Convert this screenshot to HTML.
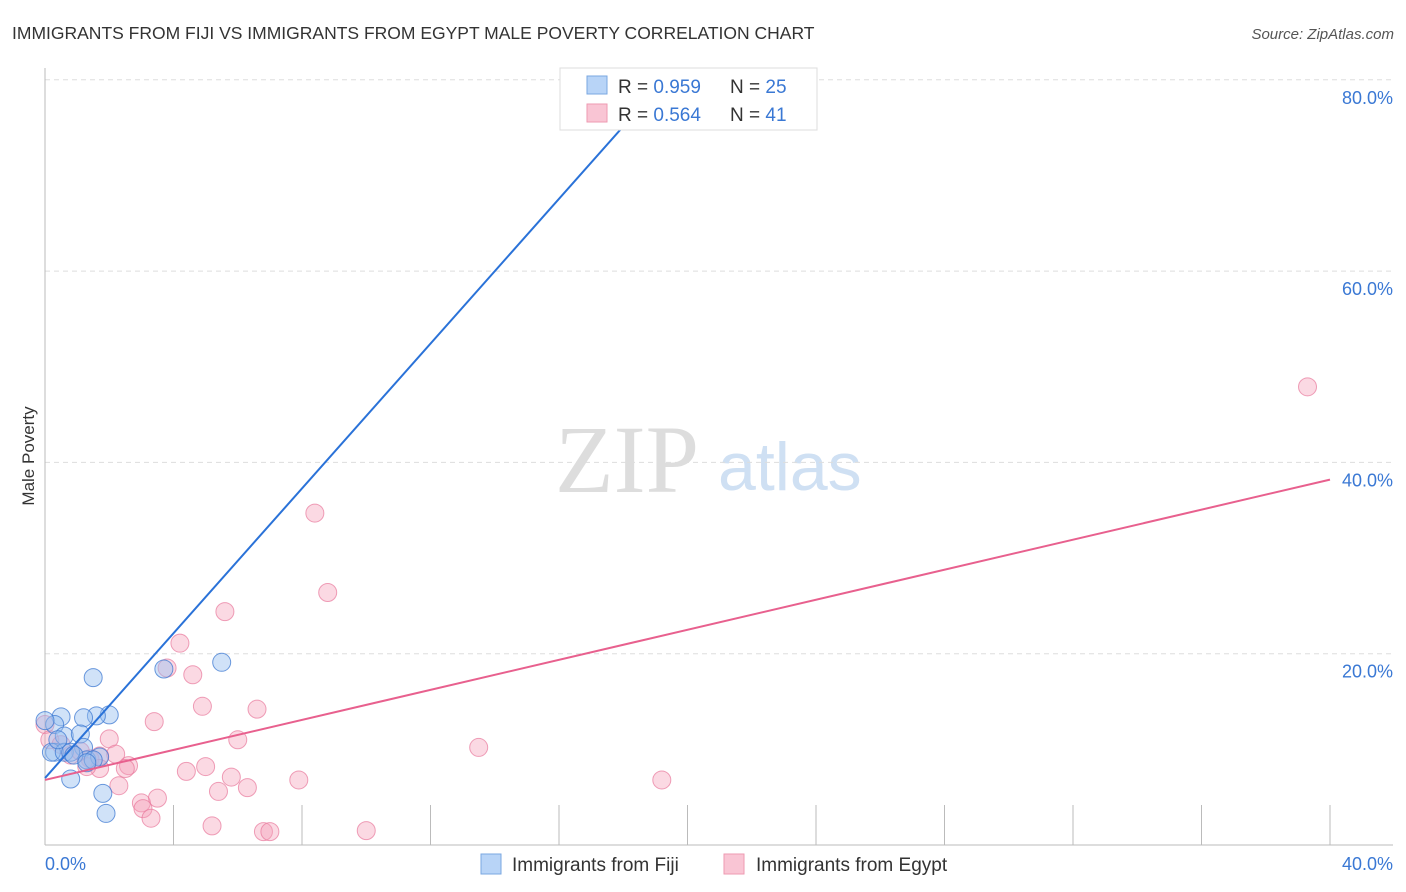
<!DOCTYPE html>
<html><head><meta charset="utf-8"><style>
body{margin:0;background:#fff;font-family:"Liberation Sans",sans-serif;}
</style></head><body>
<svg width="1406" height="892" style="display:block">
<text x="12" y="39" font-size="17.5" fill="#333">IMMIGRANTS FROM FIJI VS IMMIGRANTS FROM EGYPT MALE POVERTY CORRELATION CHART</text>
<text x="1394" y="39" font-size="15" fill="#555" font-style="italic" text-anchor="end">Source: ZipAtlas.com</text>
<text x="555" y="492" font-size="96" fill="#ddd" font-family="Liberation Serif,serif">ZIP</text>
<text x="718" y="490" font-size="68" fill="#cfe0f3">atlas</text>
<g id="grid"></g>
<line x1="45" y1="68" x2="45" y2="845" stroke="#bbb"/>
<line x1="45" y1="845" x2="1393" y2="845" stroke="#bbb"/>
<text x="34" y="456" font-size="17" fill="#333" text-anchor="middle" transform="rotate(-90 34 456)">Male Poverty</text>
<text x="45" y="870" font-size="18" fill="#3a78d4">0.0%</text>
<text x="1393" y="870" font-size="18" fill="#3a78d4" text-anchor="end">40.0%</text>
<g id="pts"></g>
<g id="lines"></g>
<g>
<rect x="560" y="68" width="257" height="62" fill="#fff" stroke="#ddd"/>
<rect x="587" y="76" width="20" height="18" fill="#b8d4f7" stroke="#7aa7e0"/>
<rect x="587" y="104" width="20" height="18" fill="#f9c5d4" stroke="#ee9ab2"/>
<text x="618" y="93" font-size="19" fill="#333">R = <tspan fill="#3a78d4">0.959</tspan><tspan x="730">N = </tspan><tspan fill="#3a78d4">25</tspan></text>
<text x="618" y="121" font-size="19" fill="#333">R = <tspan fill="#3a78d4">0.564</tspan><tspan x="730">N = </tspan><tspan fill="#3a78d4">41</tspan></text>
</g>
<g>
<rect x="481" y="854" width="20" height="20" fill="#b8d4f7" stroke="#7aa7e0"/>
<text x="512" y="871" font-size="19" fill="#333">Immigrants from Fiji</text>
<rect x="724" y="854" width="20" height="20" fill="#f9c5d4" stroke="#ee9ab2"/>
<text x="756" y="871" font-size="19" fill="#333">Immigrants from Egypt</text>
</g>
</svg>
<script>
const yTicks=[20,40,60,80];
const xTicks=[4,8,12,16,20,24,28,32,36,40];
const fijiX=[5.5,1.5,3.7,2.0,1.6,1.2,0.5,0.3,0.6,1.1,1.2,0.3,0.2,0.6,1.3,1.7,0.8,0.8,1.8,1.9,0.0,0.4,0.9,1.5,1.3];
const fijiY=[19.1,17.5,18.4,13.6,13.5,13.3,13.4,12.6,11.4,11.6,10.2,9.7,9.7,9.7,8.9,9.2,9.7,6.9,5.4,3.3,13.0,11.0,9.4,8.9,8.6];
const egyptX=[39.3,8.4,8.8,5.6,4.2,3.8,4.6,4.9,3.4,6.6,6.0,2.0,2.2,1.4,1.7,1.7,1.3,2.6,2.5,5.0,4.4,13.5,19.2,7.9,5.8,5.4,6.3,2.3,3.5,3.0,3.05,3.3,5.2,6.8,7.0,10.0,0.0,0.15,0.8,0.5,1.1];
const egyptY=[47.9,34.7,26.4,24.4,21.1,18.5,17.8,14.5,12.9,14.2,11.0,11.1,9.5,9.0,9.3,8.0,8.2,8.3,8.0,8.2,7.7,10.2,6.8,6.8,7.1,5.6,6.0,6.2,4.9,4.4,3.8,2.8,2.0,1.4,1.4,1.5,12.6,11.0,9.4,10.5,9.8];
const fijiLine=[7.0,79.1],fijiLineX=[0,19.05];
const egyptLine=[6.8,38.2],egyptLineX=[0,40];
const NS='http://www.w3.org/2000/svg';
const sx=v=>45+v/40*1285, sy=v=>845-v/20*191.3;
function mk(t,a,parent){const e=document.createElementNS(NS,t);for(const k in a)e.setAttribute(k,a[k]);document.getElementById(parent).appendChild(e);return e;}
yTicks.forEach(v=>{
const l=mk('line',{x1:45,x2:1393,y1:sy(v),y2:sy(v),stroke:'#ddd','stroke-dasharray':'5,4'},'grid');


const t=mk('text',{x:1393,y:sy(v)+24,'font-size':18,fill:'#3a78d4','text-anchor':'end'},'grid');
t.textContent=v.toFixed(1)+'%';


});
xTicks.forEach(v=>{
const l=mk('line',{x1:sx(v),x2:sx(v),y1:805,y2:845,stroke:'#bbb'},'grid');


});
egyptX.forEach((x,i)=>{
const c=mk('circle',{cx:sx(x),cy:sy(egyptY[i]),r:9,fill:'rgba(244,160,185,0.4)',stroke:'rgba(232,120,155,0.7)','stroke-width':1},'pts');


});
fijiX.forEach((x,i)=>{
const c=mk('circle',{cx:sx(x),cy:sy(fijiY[i]),r:9,fill:'rgba(150,190,240,0.45)',stroke:'rgba(60,120,210,0.75)','stroke-width':1},'pts');


});
const l1=mk('line',{x1:sx(fijiLineX[0]),y1:sy(fijiLine[0]),x2:sx(fijiLineX[1]),y2:sy(fijiLine[1]),stroke:'#2a72d8','stroke-width':2},'lines');


const l2=mk('line',{x1:sx(egyptLineX[0]),y1:sy(egyptLine[0]),x2:sx(egyptLineX[1]),y2:sy(egyptLine[1]),stroke:'#e8608e','stroke-width':2},'lines');


</script>
</body></html>
